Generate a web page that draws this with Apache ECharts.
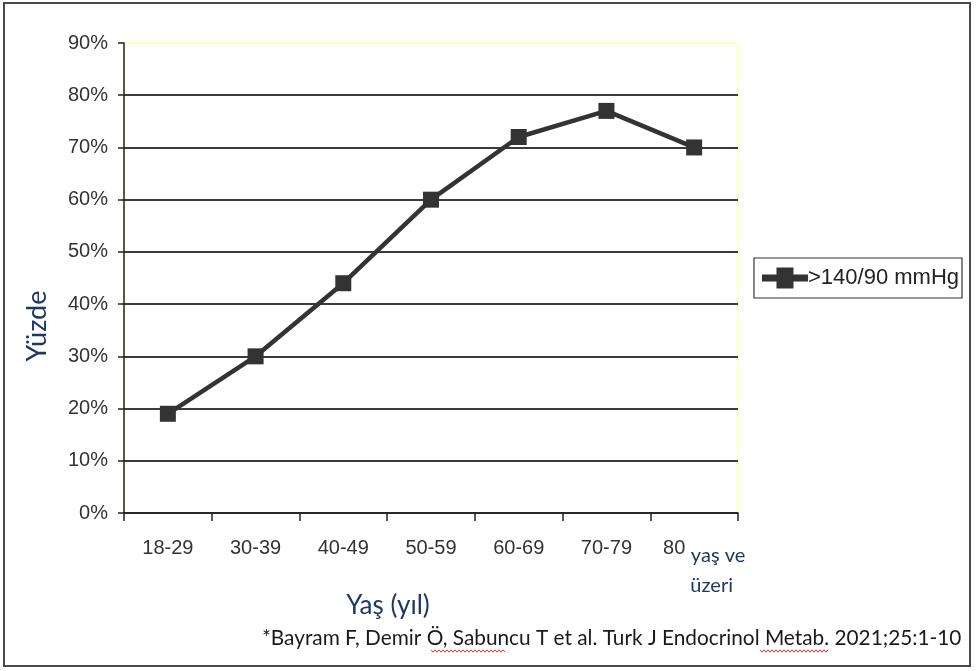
<!DOCTYPE html>
<html>
<head>
<meta charset="utf-8">
<script src="https://cdn.jsdelivr.net/npm/echarts@6/dist/echarts.min.js"></script>
<style>
  html, body { margin: 0; padding: 0; background: #fff; }
  #chart { width: 976px; height: 671px; }
</style>
</head>
<body>
<div id="chart"></div>
<script>
// Age groups and share of people with blood pressure above 140/90 mmHg
const ageGroups = ['18-29', '30-39', '40-49', '50-59', '60-69', '70-79', '80 yaş ve üzeri'];
const hypertensionPct = [19, 30, 44, 60, 72, 77, 70];
const seriesName = '>140/90 mmHg';
const yTicks = { min: 0, max: 90, step: 10 };

const chart = echarts.init(document.getElementById('chart'));

// wavy spell-check style underline
function squiggle(x0, x1, y) {
  const pts = [];
  let up = true;
  for (let x = x0; x <= x1; x += 2) {
    pts.push([x, up ? y - 1.2 : y + 1.2]);
    up = !up;
  }
  return pts;
}

// gridlines: the top one is left to the light yellow plot border
const gridColors = [];
for (let v = yTicks.min; v <= yTicks.max; v += yTicks.step) {
  gridColors.push(v === yTicks.max ? 'rgba(0,0,0,0)' : '#3a3a3a');
}

chart.setOption({
  backgroundColor: '#fff',
  animation: false,
  grid: {
    left: 124, top: 43, right: 238, bottom: 158,
    show: true, borderColor: '#ffff80', borderWidth: 1, backgroundColor: 'transparent'
  },
  legend: {
    data: [seriesName],
    right: 14, top: 258,
    orient: 'vertical',
    borderColor: '#333', borderWidth: 1.2, borderRadius: 0,
    padding: [9, 3, 9, 8],
    icon: 'path://M0,7H14.5V0H31.5V7H46V14H31.5V21H14.5V14H0Z',
    itemWidth: 46, itemHeight: 21, itemGap: 0,
    itemStyle: { color: '#333', borderWidth: 0 },
    lineStyle: { width: 0 },
    textStyle: { fontFamily: 'Liberation Sans, Arial', fontSize: 22, color: '#222', padding: [0, 0, 0, -5] }
  },
  xAxis: {
    type: 'category',
    data: ageGroups,
    boundaryGap: true,
    axisLine: { lineStyle: { color: '#222', width: 1.5 } },
    axisTick: { show: true, length: 8, alignWithLabel: false, lineStyle: { color: '#222', width: 1.5 } },
    axisLabel: {
      margin: 25,
      fontFamily: 'Liberation Sans, Arial',
      fontSize: 20,
      color: '#333',
      interval: 0,
      formatter: function (v) {
        if (v.indexOf('80 ') === 0) {
          return '{n|80} {s|yaş ve}\n{t|üzeri}';
        }
        return v;
      },
      rich: {
        n: { fontFamily: 'Liberation Sans, Arial', fontSize: 20, color: '#333', verticalAlign: 'top', padding: [0, 0, 0, 20] },
        s: { fontFamily: 'Lato, Open Sans', fontSize: 20, color: '#1f3864', padding: [8, 0, 0, 0] },
        t: { fontFamily: 'Lato, Open Sans', fontSize: 20, color: '#1f3864', padding: [10, 0, 0, 35] }
      }
    },
    splitLine: { show: false }
  },
  yAxis: {
    type: 'value',
    min: yTicks.min, max: yTicks.max, interval: yTicks.step,
    axisLine: { show: true, lineStyle: { color: '#222', width: 1.5 } },
    axisTick: { show: true, length: 6, lineStyle: { color: '#222', width: 1.5 } },
    axisLabel: {
      margin: 16,
      fontFamily: 'Liberation Sans, Arial',
      fontSize: 20,
      color: '#333',
      formatter: '{value}%'
    },
    splitLine: { show: true, lineStyle: { color: gridColors, width: 1.8 } }
  },
  series: [{
    name: seriesName,
    type: 'line',
    data: hypertensionPct,
    symbol: 'rect',
    symbolSize: 16,
    color: '#333',
    lineStyle: { color: '#333', width: 4.5 },
    itemStyle: { color: '#333' },
    z: 5
  }],
  graphic: [
    {
      type: 'rect', silent: true, z: -1,
      shape: { x: 4, y: 3, width: 966, height: 663 },
      style: { fill: 'none', stroke: '#4a4a4a', lineWidth: 2 }
    },
    {
      type: 'text', silent: true,
      x: 37, y: 326, rotation: Math.PI / 2,
      style: {
        text: 'Yüzde', fontFamily: 'Lato, Open Sans', fontSize: 27,
        fill: '#1f3864', align: 'center', verticalAlign: 'middle'
      }
    },
    {
      type: 'text', silent: true,
      x: 388, y: 606,
      style: {
        text: 'Yaş (yıl)', fontFamily: 'Lato, Open Sans', fontSize: 26,
        fill: '#1f3864', align: 'center', verticalAlign: 'middle'
      }
    },
    {
      type: 'text', silent: true,
      x: 262, y: 638,
      style: {
        text: '*Bayram F, Demir Ö, Sabuncu T et al. Turk J Endocrinol Metab. 2021;25:1-10',
        fontFamily: 'Lato, Open Sans', fontSize: 20.8,
        fill: '#1a1a1a', align: 'left', verticalAlign: 'middle'
      }
    },
    {
      type: 'polyline', silent: true,
      shape: { points: squiggle(431, 505, 651) },
      style: { stroke: '#e03030', lineWidth: 1, fill: 'none' }
    },
    {
      type: 'polyline', silent: true,
      shape: { points: squiggle(760, 828, 651) },
      style: { stroke: '#e03030', lineWidth: 1, fill: 'none' }
    }
  ]
});
</script>
</body>
</html>
